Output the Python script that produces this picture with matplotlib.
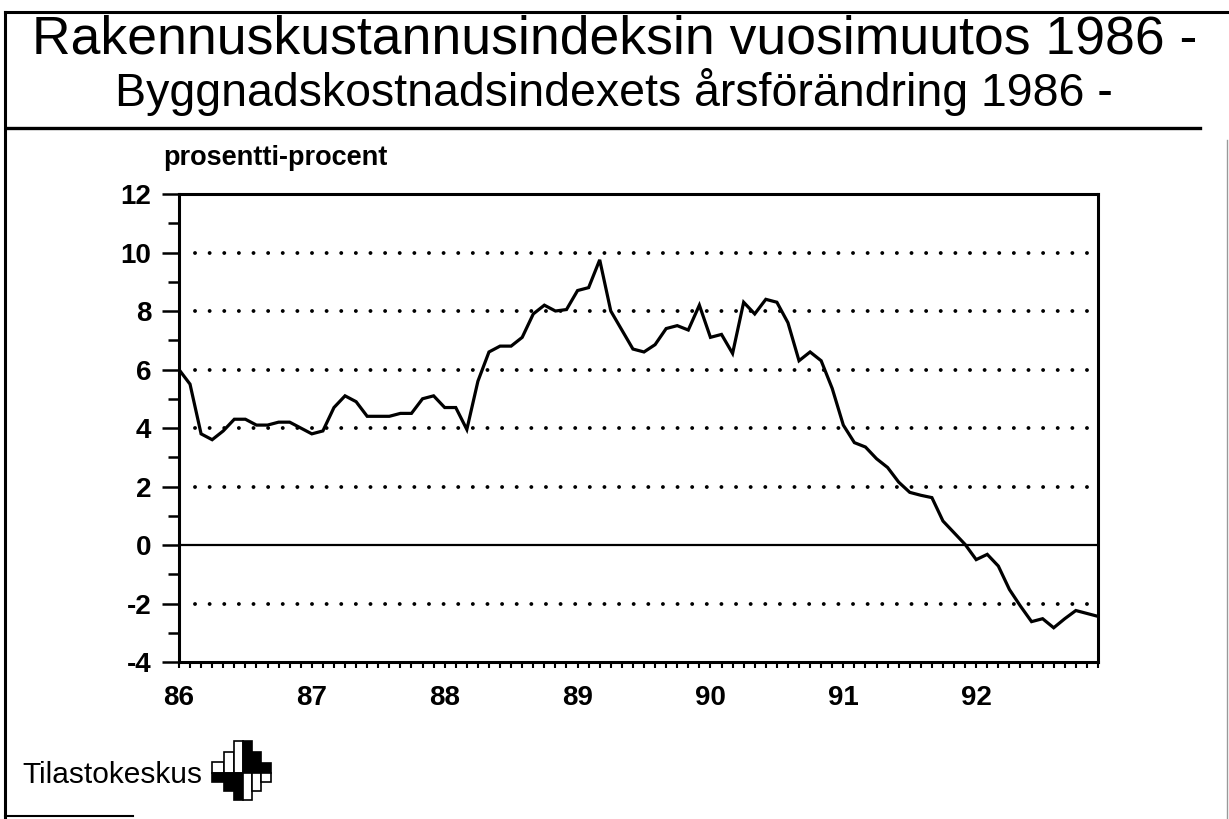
import numpy as np
import matplotlib
matplotlib.use("Agg")
import matplotlib.pyplot as plt
from matplotlib.patches import Rectangle
from matplotlib.lines import Line2D

plt.rcParams['font.family'] = ['Liberation Sans', 'DejaVu Sans']
plt.rcParams['axes.unicode_minus'] = False

# annual change of the building cost index, monthly Jan 1986 - Dec 1992 (%)
change = [6.0, 5.5, 3.8, 3.6, 3.9, 4.3, 4.3, 4.1, 4.1, 4.2, 4.2, 4.0,
          3.8, 3.9, 4.7, 5.1, 4.9, 4.4, 4.4, 4.4, 4.5, 4.5, 5.0, 5.1,
          4.7, 4.7, 3.95, 5.6, 6.6, 6.8, 6.8, 7.1, 7.9, 8.2, 8.0, 8.05,
          8.7, 8.8, 9.75, 8.0, 7.35, 6.7, 6.6, 6.85, 7.4, 7.5, 7.35, 8.2,
          7.1, 7.2, 6.55, 8.3, 7.9, 8.4, 8.3, 7.6, 6.3, 6.6, 6.3, 5.35,
          4.1, 3.5, 3.35, 2.95, 2.65, 2.15, 1.8, 1.7, 1.62, 0.82, 0.42, 0.02,
          -0.5, -0.32, -0.72, -1.52, -2.09, -2.62, -2.52, -2.83, -2.52, -2.24, -2.34, -2.44]
months = np.arange(len(change))
year_labels = ['86', '87', '88', '89', '90', '91', '92']
year_pos = [12 * k for k in range(len(year_labels))]
grid_levels = [-2, 2, 4, 6, 8, 10]

fig = plt.figure(figsize=(12.29, 8.19), dpi=100)
ax = fig.add_axes([0.1456, 0.1917, 0.7478, 0.5714])

ax.plot(months, change, color='black', lw=2.3, solid_joinstyle='miter')
ax.axhline(0, color='black', lw=1.6)
dot_lw = 2.8
for g in grid_levels:
    ax.axhline(g, xmin=0.0174, xmax=0.992, color='black', lw=dot_lw,
               linestyle=(0, (0.01, 10.5 / dot_lw)), dash_capstyle='round')

ax.set_xlim(0, len(change) - 1)
ax.set_ylim(-4, 12)
ax.set_yticks(range(-4, 13, 2))
ax.set_yticks(range(-3, 12, 2), minor=True)
ax.set_xticks(year_pos)
ax.set_xticklabels(year_labels)
ax.set_xticks(months, minor=True)

ax.tick_params(axis='y', which='major', length=12, width=1.8, pad=8,
               labelsize=20, direction='out')
ax.tick_params(axis='y', which='minor', length=8, width=1.8, direction='out')
ax.tick_params(axis='x', which='both', length=4.5, width=1.5, direction='out',
               pad=12, labelsize=20)
for lab in ax.get_xticklabels() + ax.get_yticklabels():
    lab.set_fontweight('bold')

for s in ax.spines.values():
    s.set_linewidth(2.2)

fig.text(163 / 1229, 1 - 158 / 819, 'prosentti-procent', fontsize=19.5,
         fontweight='bold', ha='left', va='center')

# titles
fig.text(615 / 1229, 1 - 40 / 819, 'Rakennuskustannusindeksin vuosimuutos 1986 -',
         fontsize=38.5, ha='center', va='center')
fig.text(614 / 1229, 1 - 92 / 819, 'Byggnadskostnadsindexets årsförändring 1986 -',
         fontsize=33.5, ha='center', va='center')

# frame lines
def hline(x0, x1, y, lw=2.2, color='black'):
    fig.add_artist(Line2D([x0 / 1229, x1 / 1229], [1 - y / 819, 1 - y / 819],
                          color=color, lw=lw))

def vline(x, y0, y1, lw=2.2, color='black'):
    fig.add_artist(Line2D([x / 1229, x / 1229], [1 - y0 / 819, 1 - y1 / 819],
                          color=color, lw=lw))

hline(5, 1229, 12)
vline(5, 12, 817)
hline(8, 1200, 128, lw=2.4)
hline(5, 133, 816, lw=1.5)
vline(1227, 140, 819, lw=1.0, color='#999999')

# Tilastokeskus logo
fig.text(22 / 1229, 1 - 775 / 819, 'Tilastokeskus', fontsize=21.5,
         ha='left', va='center')
lax = fig.add_axes([210 / 1229, 1 - 804 / 819, 66 / 1229, 66 / 819])
lax.set_xlim(210, 276)
lax.set_ylim(804, 738)
lax.axis('off')
mid = 773
bars = [(212, 224, 762, 'w'), (224, 234, 752, 'w'), (234, 243, 741, 'w'),
        (243, 252, 741, 'k'), (252, 261, 752, 'k'), (261, 271, 763, 'k')]
for x0, x1, top, c in bars:
    lax.add_patch(Rectangle((x0, top), x1 - x0, mid - top, facecolor=c,
                            edgecolor='black', lw=1.2))
    h = mid - top
    c2 = 'k' if c == 'w' else 'w'
    lax.add_patch(Rectangle((x0, mid), x1 - x0, h * 0.85, facecolor=c2,
                            edgecolor='black', lw=1.2))

fig.savefig('out.png', dpi=100)
